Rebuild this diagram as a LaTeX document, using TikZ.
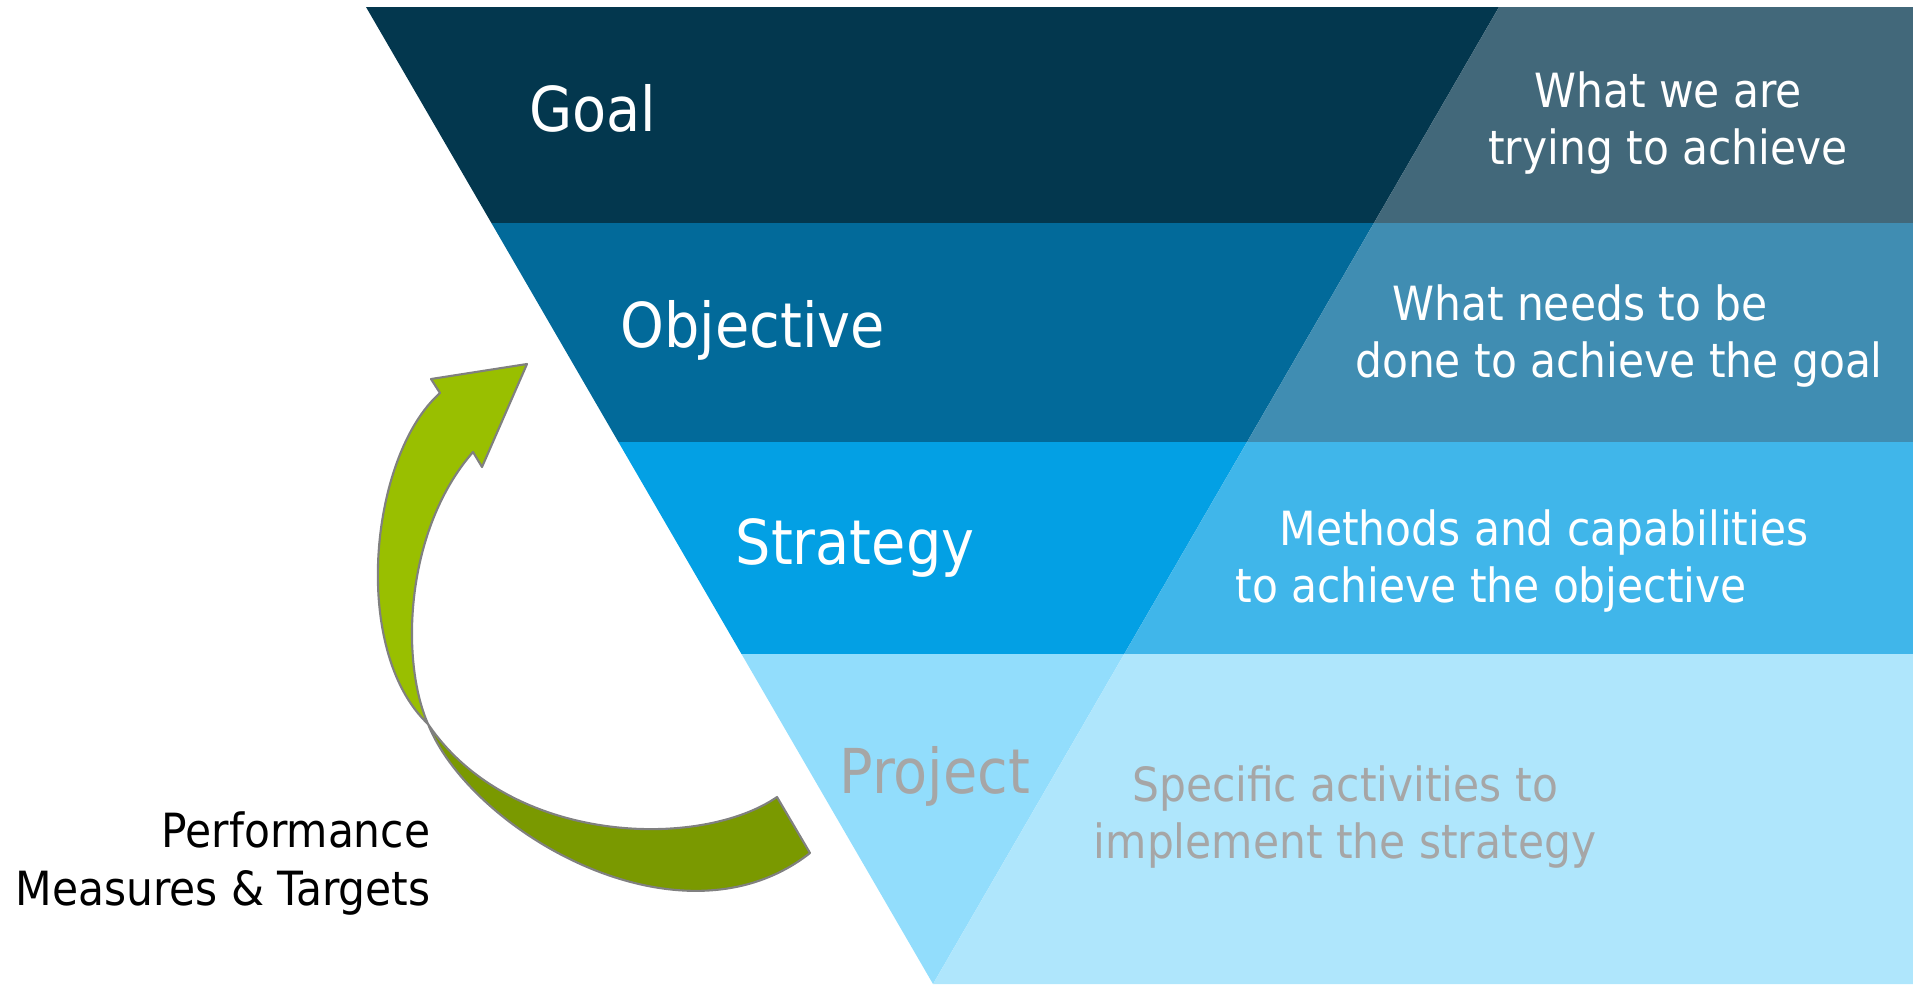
\documentclass[tikz,border=0pt]{standalone}
\usepackage{fontspec}
\setmainfont{DejaVu Sans Condensed}

\definecolor{goalL}{RGB}{3,55,78}
\definecolor{goalR}{RGB}{66,104,122}
\definecolor{objL}{RGB}{2,106,154}
\definecolor{objR}{RGB}{64,141,178}
\definecolor{strL}{RGB}{3,160,228}
\definecolor{strR}{RGB}{64,182,234}
\definecolor{prjL}{RGB}{146,221,252}
\definecolor{prjR}{RGB}{175,230,252}
\definecolor{txtgrey}{RGB}{166,166,166}
\definecolor{arrLight}{RGB}{153,191,0}
\definecolor{arrDark}{RGB}{122,153,0}
\definecolor{arrLine}{RGB}{128,128,128}

\begin{document}
\begin{tikzpicture}[x=0.01cm,y=-0.01cm,
  title/.style={anchor=base west,inner sep=0pt,text=white,font=\fontsize{17.6}{21}\selectfont},
  descr/.style={anchor=base,inner sep=0pt,align=center,text=white,font=\fontsize{13.4}{16.2}\selectfont},
  arrpart/.style={draw=arrLine,line width=0.6pt,line join=round}]

\useasboundingbox (0,0) rectangle (1913,984);

% funnel bands, darker half on the left:
\fill[goalL] (366,7) -- (1499,7) -- (1373.9,223) -- (491.4,223) -- cycle;
\fill[goalR] (1499,7) -- (1913,7) -- (1913,223) -- (1373.9,223) -- cycle;
\fill[objL] (491.4,223) -- (1373.9,223) -- (1247,442) -- (618.4,442) -- cycle;
\fill[objR] (1373.9,223) -- (1913,223) -- (1913,442) -- (1247,442) -- cycle;
\fill[strL] (618.4,442) -- (1247,442) -- (1124.2,654) -- (741.5,654) -- cycle;
\fill[strR] (1247,442) -- (1913,442) -- (1913,654) -- (1124.2,654) -- cycle;
\fill[prjL] (741.5,654) -- (1124.2,654) -- (933,984) -- cycle;
\fill[prjR] (1124.2,654) -- (1913,654) -- (1913,984) -- (933,984) -- cycle;

% band titles:
\node[title] (goal) at (529,131) {Goal};
\node[title] (objective) at (620,347) {Objective};
\node[title] (strategy) at (735,564) {Strategy};
\node[title,text=txtgrey] (project) at (839,793) {Project};

% band descriptions (base = last line):
\node[descr] (goalText) at (1668,164) {What we are\\trying to achieve};
\node[descr] (objText) at (1619,377) {What needs to be\hspace*{0.78cm}\\done to achieve the goal};
\node[descr] (strText) at (1491,602) {\hspace*{1.06cm}Methods and capabilities\\to achieve the objective};
\node[descr,text=txtgrey] (prjText) at (1345,858) {Specific activities to\\implement the strategy};

% curved arrow, upper (light) part:
\filldraw[arrpart,fill=arrLight] (527,364) -- (431,379) -- (440,393)
  .. controls (370,455) and (350,650) .. (428,724)
  .. controls (400,660) and (405,530) .. (473,452)
  -- (482,467) -- cycle;
% curved arrow, lower (dark) part:
\filldraw[arrpart,fill=arrDark] (428,724)
  .. controls (470,830) and (680,955) .. (810,853)
  -- (777,797)
  .. controls (700,850) and (510,845) .. (428,724)
  -- cycle;

\node[anchor=base east,inner sep=0pt,align=right,font=\fontsize{13.4}{16.5}\selectfont] (measures) at (431,905) {Performance\\Measures \& Targets};

\end{tikzpicture}
\end{document}
